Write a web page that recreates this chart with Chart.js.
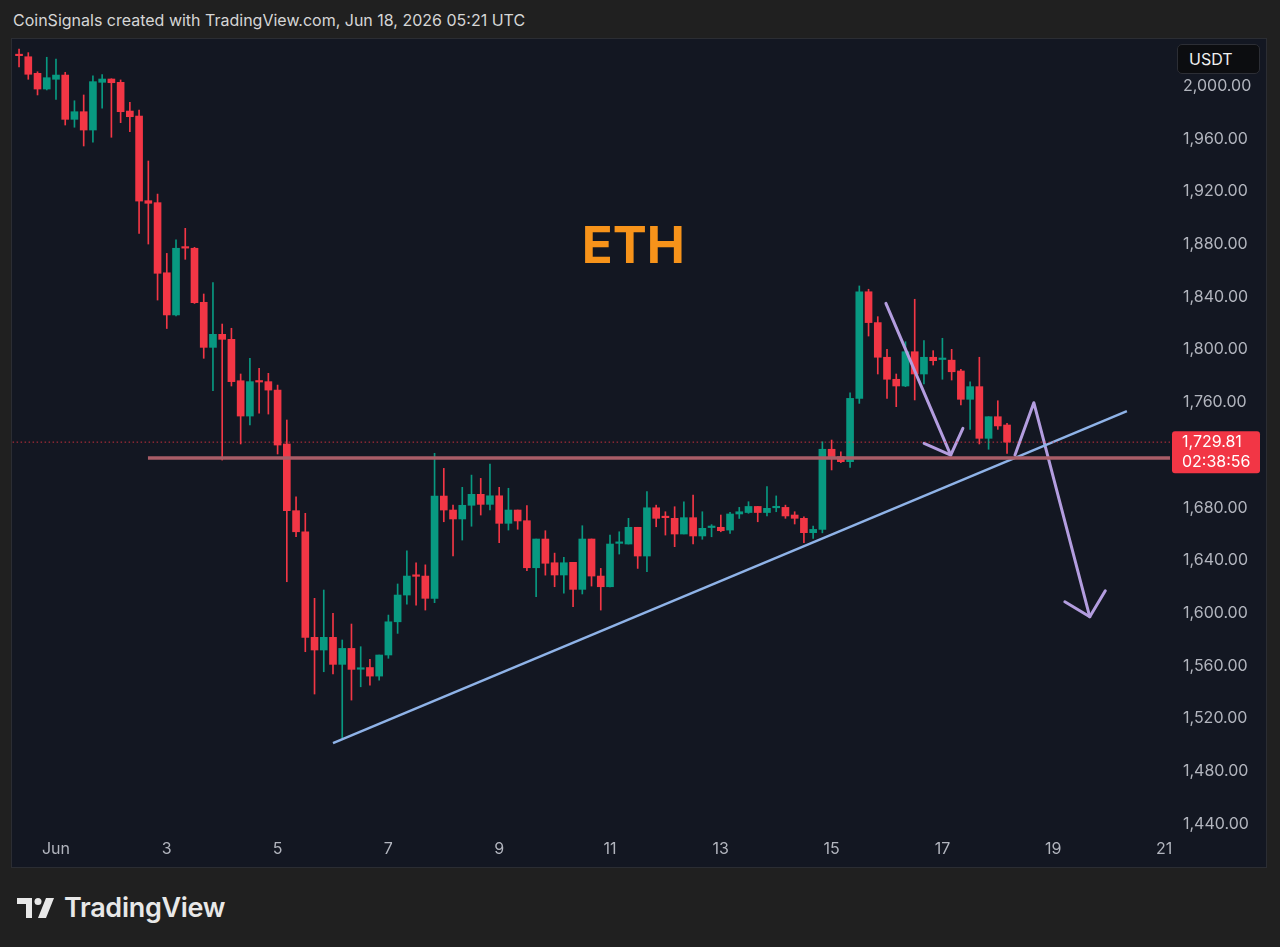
<!DOCTYPE html>
<html>
<head>
<meta charset="utf-8">
<title>ETH 4h</title>
<script src="https://cdn.jsdelivr.net/npm/chart.js@4.4.1/dist/chart.umd.min.js"></script>
<style>
    body { margin: 0; width: 1280px; height: 947px; background: #202020; font-family: Inter, "Noto Sans", sans-serif; overflow: hidden; position: relative; }
    #header { position: absolute; left: 13px; top: 10px; font-size: 16px; color: #d6d6d6; white-space: nowrap; }
    #panel { position: absolute; left: 12px; top: 39px; width: 1254px; height: 828px; background: #131722; box-shadow: 0 0 0 1px #2b2d33; }
    #chart { position: absolute; left: 0; top: 0; }
    #usdt { position: absolute; left: 1165px; top: 5px; width: 83px; height: 30px; box-sizing: border-box; background: #0c0d10; border: 1px solid #2c2e35; border-radius: 5px; color: #f0f0f0; font-size: 16px; line-height: 28px; padding-left: 11px; }
    #footer { position: absolute; left: 17px; top: 891px; display: flex; align-items: center; color: #e8e8e8; }
    #footer span { font-size: 27px; font-weight: 600; letter-spacing: -0.3px; margin-left: 9px; }
</style>
</head>
<body>
<div id="header">CoinSignals created with TradingView.com, Jun 18, 2026 05:21 UTC</div>
<div id="panel">
    <canvas id="chart" width="1254" height="828"></canvas>
    <div id="usdt">USDT</div>
</div>
<div id="footer">
    <svg width="38" height="24" viewBox="0 0 38 24"><path d="M0 2h15v20H9V8H0z" fill="#e8e8e8"/><circle cx="21" cy="5.5" r="3.5" fill="#e8e8e8"/><path d="M29 2h8l-8 20h-8z" fill="#e8e8e8"/></svg>
    <span>TradingView</span>
</div>
<script>
// ETH/USDT 4h candles, May 31 08:00 -> Jun 18 04:00 UTC
const opens = [
    2024, 2022.2, 2009.6, 1997.7, 2005.1, 2008.3, 1974.7, 1980.5, 1966.6, 2002.8,
    2005.3, 2002.8, 1981, 1977.2, 1913, 1911.5, 1858.3, 1826.3, 1877.5, 1876.9,
    1835.9, 1801.7, 1811.6, 1807.8, 1776.4, 1749.6, 1776, 1775.7, 1769.3, 1728.4,
    1677.8, 1661.8, 1581.7, 1572.1, 1581.7, 1561.2, 1573.3, 1557.5, 1558.8, 1552.3,
    1568.3, 1593.5, 1613.8, 1629, 1628.2, 1611.3, 1688.9, 1678.3, 1671.5, 1681.9,
    1690.2, 1682.6, 1689.1, 1668.2, 1678.3, 1670.2, 1634.5, 1656.3, 1638.3, 1629,
    1638.6, 1618.1, 1656.3, 1628.2, 1620.1, 1653, 1652.5, 1665.2, 1643.4, 1680,
    1673, 1672, 1660.1, 1672.5, 1658.6, 1665, 1665.2, 1663.1, 1675.3, 1676.4,
    1681, 1676.4, 1680, 1680.3, 1674.5, 1672, 1661.1, 1663.6, 1724.4, 1718.8,
    1715, 1763, 1843.9, 1820.5, 1794.2, 1777.5, 1772.4, 1798.4, 1781.5, 1794.2,
    1792.5, 1792, 1783.8, 1762.3, 1771.9, 1732.7, 1749.1, 1742.8
];
const highs = [
    2028, 2025.3, 2010.8, 2021.8, 2020.5, 2010.4, 1988.8, 1993.2, 2007.8, 2008.6,
    2005.5, 2004.6, 1987.6, 1981.8, 1943.1, 1918, 1873, 1883.2, 1892, 1877.6,
    1842.2, 1850.8, 1819.4, 1816.2, 1781.5, 1793.4, 1785.8, 1782, 1773.1, 1746.6,
    1688.4, 1675.8, 1611.3, 1617.6, 1599.9, 1579.7, 1591.8, 1574.6, 1565, 1568.3,
    1598.6, 1622.2, 1647.4, 1638.3, 1636.7, 1721.3, 1709.9, 1682.1, 1695.5, 1704.8,
    1702.3, 1713.2, 1695.5, 1694.8, 1678.3, 1681.6, 1656.3, 1662.6, 1645.6, 1642.4,
    1638.6, 1666.4, 1656.3, 1634, 1659.3, 1661.8, 1672, 1665.2, 1692.2, 1682,
    1677, 1680.8, 1684.6, 1689.7, 1677, 1667.2, 1674.5, 1676.6, 1680.3, 1684.6,
    1681, 1696, 1689, 1682, 1677, 1673.2, 1666.2, 1730.1, 1731.4, 1722.5,
    1767.3, 1848.3, 1845.8, 1825, 1800.2, 1781.5, 1806, 1838.2, 1806.8, 1799.2,
    1808.6, 1800.2, 1785, 1775.6, 1794.2, 1749.1, 1761.2, 1744
];
const lows = [
    2014.4, 2005.1, 1993.2, 1997, 1989.9, 1970.4, 1968.7, 1954.5, 1957.3, 1983.1,
    1961.1, 1972.2, 1965.3, 1888.2, 1880.1, 1837.6, 1816, 1825.5, 1868.5, 1835,
    1793.4, 1768.8, 1716.2, 1772.4, 1728.4, 1742.8, 1751.7, 1751.1, 1720.8, 1623.9,
    1658, 1570.8, 1538.7, 1555.6, 1553.9, 1505.1, 1534.1, 1544.2, 1545.5, 1549.3,
    1565.8, 1584.7, 1606.9, 1606.2, 1602.4, 1608, 1669.4, 1643.4, 1655.5, 1666,
    1674.5, 1678.3, 1653.5, 1663.1, 1663.7, 1632.3, 1612.5, 1628.9, 1620.1, 1615.2,
    1605, 1614.6, 1620.6, 1602.4, 1620, 1644.9, 1652.5, 1634, 1631.5, 1665.6,
    1659.3, 1650.5, 1660.1, 1652.5, 1656.1, 1658, 1661.8, 1660.6, 1671.9, 1675.8,
    1669.4, 1673.8, 1677, 1672, 1667.7, 1653.5, 1656.8, 1661, 1708.7, 1714.2,
    1710.7, 1759.2, 1810.3, 1781.5, 1763, 1756.7, 1771.9, 1761.8, 1773.9, 1788.3,
    1777.5, 1776.9, 1758, 1739.5, 1728.4, 1724.4, 1739.5, 1721.3
];
const closes = [
    2023, 2008.9, 1997.7, 2006.3, 2008.3, 1974.7, 1980.5, 1966.6, 2003.3, 2005.3,
    2002.5, 1980.5, 1976.7, 1912.7, 1911, 1857.9, 1826.3, 1876.9, 1877, 1835.6,
    1801.7, 1811.6, 1807.8, 1775.7, 1749.6, 1775.7, 1775.4, 1769.3, 1727.6, 1677.8,
    1661.8, 1581.7, 1572.1, 1581.7, 1561.2, 1573.3, 1557.4, 1558, 1552.3, 1568.3,
    1593.5, 1613.8, 1628.2, 1628, 1611.3, 1688.9, 1678.3, 1671.5, 1681.9, 1690.2,
    1682.6, 1689.1, 1668.2, 1678.3, 1670, 1634.5, 1656.3, 1637.9, 1629, 1638.3,
    1618.1, 1656.3, 1628.2, 1620.1, 1652.5, 1654, 1665.2, 1643.4, 1680, 1672,
    1672.5, 1660.1, 1672.5, 1658.6, 1664.4, 1665.6, 1662.6, 1675.3, 1677, 1681,
    1676.4, 1679.6, 1680.8, 1673.8, 1672, 1661.1, 1663.6, 1724.4, 1718.3, 1715,
    1763, 1843.9, 1820.5, 1794.2, 1777.5, 1772.4, 1798.4, 1781.5, 1794.2, 1791.6,
    1793, 1783.2, 1762.3, 1771.9, 1732.7, 1749.1, 1742.1, 1729.81
];

// x axis is counted in June days (1 = Jun 1 00:00 UTC)
const FIRST_CANDLE = 1 - 16 / 24;   // May 31 08:00
const CANDLE_STEP = 4 / 24;         // 4h

const xTicks = [1, 3, 5, 7, 9, 11, 13, 15, 17, 19, 21];
const xTickLabels = ["Jun", "3", "5", "7", "9", "11", "13", "15", "17", "19", "21"];
const yTicks = [2000, 1960, 1920, 1880, 1840, 1800, 1760, 1720, 1680, 1640, 1600, 1560, 1520, 1480, 1440];

const lastPrice = 1729.81;
const countdown = "02:38:56";

// drawings, as [day, price]
const supportLine = [[2.66, 1717.8], [21.2, 1717.8]];
const trendLine = [[6.0, 1501.5], [20.33, 1753.4]];
const arrow1 = [[15.98, 1835.1], [17.15, 1720.0]];
const arrow1Head = [[16.67, 1728.9], [17.15, 1720.0], [17.37, 1740.3]];
const arrow2 = [[18.31, 1720.0], [18.65, 1759.7], [19.66, 1597.3]];
const arrow2Head = [[19.21, 1608.7], [19.66, 1597.3], [19.94, 1617.0]];
const label = { text: "ETH", day: 11.42, price: 1865.7 };

const UP = "#089981";
const DOWN = "#f23645";
const TEXT = "#b2b5be";

Chart.defaults.font.family = "Inter, 'Noto Sans', sans-serif";

const times = opens.map((o, i) => FIRST_CANDLE + i * CANDLE_STEP);
const colors = opens.map((o, i) => closes[i] >= o ? UP : DOWN);
const toPoints = arr => arr.map(p => ({ x: p[0], y: p[1] }));

function lineSet(points, color, width, extra) {
    return Object.assign({
        type: "line",
        data: toPoints(points),
        borderColor: color,
        borderWidth: width,
        pointRadius: 0,
        tension: 0,
        fill: false,
        order: 0
    }, extra || {});
}

// price tag + big ETH label
const overlayPlugin = {
    id: "overlay",
    afterDatasetsDraw(chart) {
        const ctx = chart.ctx;
        const { x, y } = chart.scales;
        ctx.save();
        ctx.fillStyle = "#f7931a";
        ctx.font = "bold 51px Inter, sans-serif";
        ctx.textAlign = "center";
        ctx.textBaseline = "alphabetic";
        ctx.fillText(label.text, x.getPixelForValue(label.day), y.getPixelForValue(label.price));
        ctx.restore();
    },
    afterDraw(chart) {
        const ctx = chart.ctx;
        const area = chart.chartArea;
        const py = chart.scales.y.getPixelForValue(lastPrice);
        ctx.save();
        ctx.fillStyle = DOWN;
        ctx.beginPath();
        ctx.roundRect(area.right + 2, py - 11, 88, 42, 3);
        ctx.fill();
        ctx.fillStyle = "#ffffff";
        ctx.font = "16px Inter, sans-serif";
        ctx.textAlign = "left";
        ctx.textBaseline = "middle";
        ctx.fillText(lastPrice.toLocaleString("en-US", { minimumFractionDigits: 2 }), area.right + 12, py);
        ctx.fillText(countdown, area.right + 12, py + 20);
        ctx.restore();
    }
};

const chart = new Chart(document.getElementById("chart"), {
    type: "bar",
    data: {
        datasets: [
            lineSet(supportLine, "#a95d67", 3.5),
            lineSet([[0, lastPrice], [21.2, lastPrice]], "rgba(242,54,69,0.8)", 1, { borderDash: [1.5, 2.5] }),
            lineSet(trendLine, "#8fb3e8", 2.5),
            lineSet(arrow1, "#b39ddf", 3, { borderCapStyle: "round" }),
            lineSet(arrow1Head, "#b39ddf", 3, { borderCapStyle: "round", borderJoinStyle: "round" }),
            lineSet(arrow2, "#b39ddf", 3, { borderCapStyle: "round", borderJoinStyle: "round" }),
            lineSet(arrow2Head, "#b39ddf", 3, { borderCapStyle: "round", borderJoinStyle: "round" }),
            {
                // bodies
                data: times.map((t, i) => ({ x: t, y: [Math.min(opens[i], closes[i]), Math.max(opens[i], closes[i])] })),
                backgroundColor: colors,
                barThickness: 7,
                minBarLength: 1.5,
                grouped: false,
                order: 1
            },
            {
                // wicks
                data: times.map((t, i) => ({ x: t, y: [lows[i], highs[i]] })),
                backgroundColor: colors,
                barThickness: 1,
                grouped: false,
                order: 2
            }
        ]
    },
    options: {
        responsive: false,
        animation: false,
        devicePixelRatio: 1,
        layout: { padding: 0 },
        plugins: { legend: { display: false }, tooltip: { enabled: false } },
        scales: {
            x: {
                type: "linear",
                offset: false,
                min: 0.206,
                max: 21.108,
                grid: { display: false, drawTicks: false },
                border: { display: false },
                afterBuildTicks: scale => { scale.ticks = xTicks.map(v => ({ value: v })); },
                afterFit: scale => {
                    scale.height = 33;
                    scale.paddingLeft = 0;
                    scale.paddingRight = 0;
                },
                ticks: {
                    color: TEXT,
                    font: { size: 16 },
                    padding: 6,
                    maxRotation: 0,
                    autoSkip: false,
                    callback: v => xTickLabels[xTicks.indexOf(v)]
                }
            },
            y: {
                type: "linear",
                position: "right",
                min: 1432.5,
                max: 2035.66,
                grid: { display: false, drawTicks: false },
                border: { display: false },
                afterBuildTicks: scale => { scale.ticks = yTicks.map(v => ({ value: v })); },
                afterFit: scale => {
                    // keep the plot area flush with the panel top
                    scale.width = 96;
                    scale.paddingTop = 0;
                    scale.paddingBottom = 0;
                },
                ticks: {
                    color: TEXT,
                    font: { size: 16 },
                    padding: 13,
                    callback: v => v.toLocaleString("en-US", { minimumFractionDigits: 2, maximumFractionDigits: 2 })
                }
            }
        }
    },
    plugins: [overlayPlugin]
});
</script>
</body>
</html>
